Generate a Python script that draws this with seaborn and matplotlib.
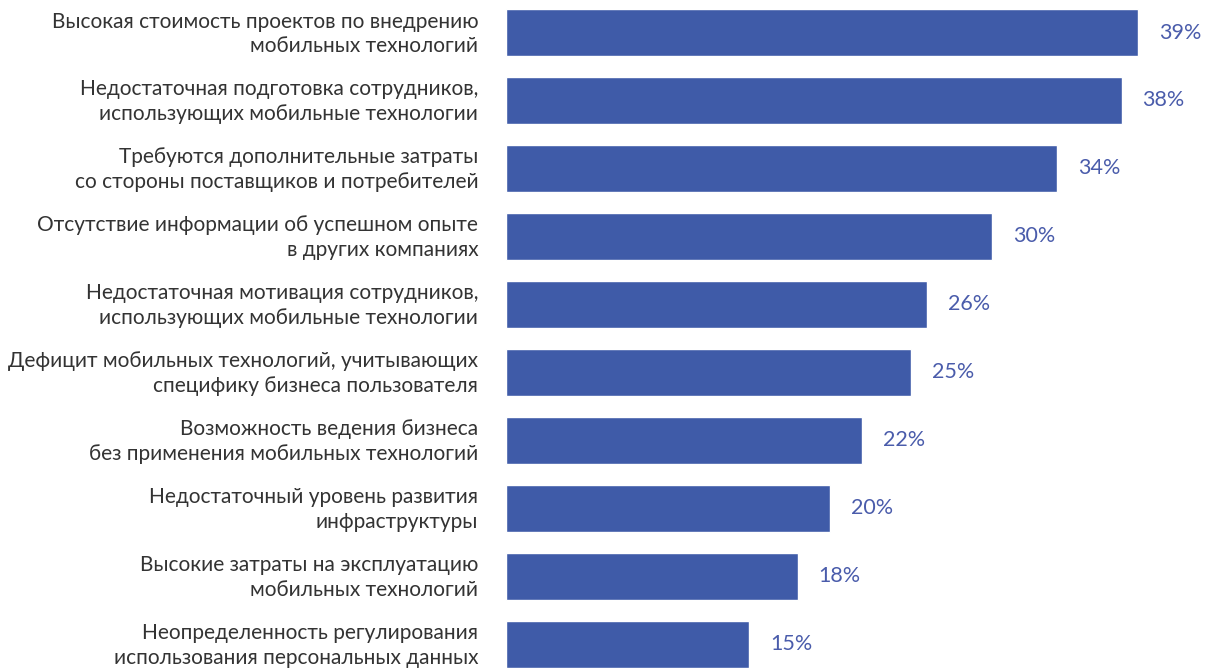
"""
Барьеры внедрения мобильных технологий — горизонтальная гистограмма
"""
import pandas as pd
import matplotlib
matplotlib.use("Agg")
import matplotlib.pyplot as plt
import matplotlib.transforms as mtransforms
import seaborn as sns

CATEGORIES = [
    "Высокая стоимость проектов по внедрению\nмобильных технологий",
    "Недостаточная подготовка сотрудников,\nиспользующих мобильные технологии",
    "Требуются дополнительные затраты\nсо стороны поставщиков и потребителей",
    "Отсутствие информации об успешном опыте\nв других компаниях",
    "Недостаточная мотивация сотрудников,\nиспользующих мобильные технологии",
    "Дефицит мобильных технологий, учитывающих\nспецифику бизнеса пользователя",
    "Возможность ведения бизнеса\nбез применения мобильных технологий",
    "Недостаточный уровень развития\nинфраструктуры",
    "Высокие затраты на эксплуатацию\nмобильных технологий",
    "Неопределенность регулирования\nиспользования персональных данных",
]
VALUES = [39, 38, 34, 30, 26, 25, 22, 20, 18, 15]

BAR_COLOR = "#3f5ba8"
LABEL_COLOR = "#4a5cab"
TEXT_COLOR = "#333333"

sns.set_theme(style="white")
plt.rcParams["font.family"] = ["Lato", "Open Sans", "DejaVu Sans"]

df = pd.DataFrame({"cat": CATEGORIES, "val": VALUES})

fig = plt.figure(figsize=(12.07, 6.68), dpi=100)
ax = fig.add_axes([506 / 1207, 0, 1 - 506 / 1207, 1])

sns.barplot(data=df, x="val", y="cat", orient="h", color=BAR_COLOR,
            saturation=1, width=0.69, ax=ax)

for cont in ax.containers:
    ax.bar_label(cont, fmt="{:.0f}%", padding=15, fontsize=15.5, color=LABEL_COLOR)

ax.set_xlim(0, 701 / 16.2)
ax.set_ylim(9.346, -0.478)
ax.set_xlabel("")
ax.set_ylabel("")
ax.set_xticks([])
ax.tick_params(axis="y", length=0, pad=20, labelsize=15, labelcolor=TEXT_COLOR)
# сдвиг подписей чуть вверх, чтобы текст визуально центрировался по столбцу
shift = mtransforms.ScaledTranslation(0, 3 / 100, fig.dpi_scale_trans)
for lbl in ax.get_yticklabels():
    lbl.set_linespacing(1.3)
    lbl.set_transform(lbl.get_transform() + shift)
sns.despine(ax=ax, left=True, bottom=True)

plt.savefig("out.png", dpi=100)
